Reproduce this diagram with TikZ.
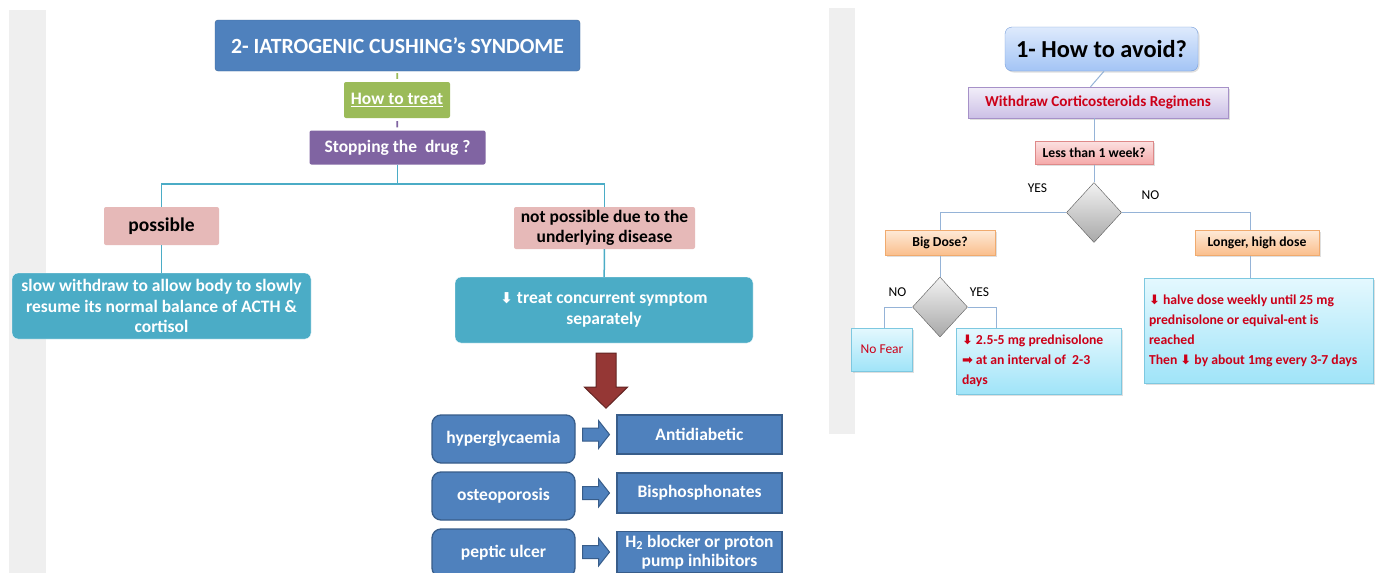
\documentclass[tikz,border=0pt]{standalone}
\usepackage{fontspec}
\setmainfont{Carlito}
\newfontfamily\symfont{DejaVu Sans}
\usepackage{tikz}
\usetikzlibrary{calc, positioning}
\usetikzlibrary{shapes.geometric, shadows}
\definecolor{slideblue}{RGB}{79,129,189}
\definecolor{blueedge}{RGB}{56,93,138}
\definecolor{howgreen}{RGB}{155,187,89}
\definecolor{stoppurple}{RGB}{128,100,162}
\definecolor{pinkcolor}{RGB}{230,185,184}
\definecolor{tealcolor}{RGB}{75,172,198}
\definecolor{darkred}{RGB}{149,55,53}
\definecolor{darkrededge}{RGB}{99,37,35}
\definecolor{stripgray}{RGB}{239,239,239}
\definecolor{avoidtop}{RGB}{222,234,252}
\definecolor{avoidbot}{RGB}{163,196,245}
\definecolor{avoidedge}{RGB}{118,157,218}
\definecolor{lavtop}{RGB}{242,238,249}
\definecolor{lavbot}{RGB}{204,192,230}
\definecolor{lavedge}{RGB}{166,145,200}
\definecolor{rosetop}{RGB}{251,224,224}
\definecolor{rosebot}{RGB}{245,168,168}
\definecolor{roseedge}{RGB}{222,137,137}
\definecolor{ambertop}{RGB}{254,233,214}
\definecolor{amberbot}{RGB}{250,190,140}
\definecolor{amberedge}{RGB}{240,170,110}
\definecolor{cyantop}{RGB}{228,248,254}
\definecolor{cyanbot}{RGB}{160,228,248}
\definecolor{cyanedge}{RGB}{125,200,224}
\definecolor{diamtop}{RGB}{242,242,242}
\definecolor{diambot}{RGB}{168,168,168}
\definecolor{diamedge}{RGB}{90,90,90}
\definecolor{linkblue}{RGB}{149,179,215}
\definecolor{alertred}{RGB}{204,0,24}
% left slide
\tikzstyle{headbox} = [rectangle, rounded corners=3pt, minimum width=365pt, minimum height=51pt, text centered, draw=slideblue!80!black, fill=slideblue, text=white, font=\fontsize{21.7}{24}\selectfont\bfseries]
\tikzstyle{greenbox} = [rectangle, rounded corners=2pt, minimum width=106pt, minimum height=36pt, text centered, fill=howgreen, text=white, font=\fontsize{17.5}{20.5}\selectfont\bfseries]
\tikzstyle{purplebox} = [rectangle, rounded corners=2pt, minimum width=176pt, minimum height=34pt, text centered, fill=stoppurple, text=white, font=\fontsize{17.5}{20.5}\selectfont\bfseries]
\tikzstyle{pinkcase} = [rectangle, rounded corners=2pt, inner sep=0pt, text centered, align=center, fill=pinkcolor, text=black, font=\fontsize{17.5}{20.5}\selectfont\bfseries]
\tikzstyle{tealstep} = [rectangle, rounded corners=6pt, inner sep=0pt, minimum height=66pt, text centered, align=center, fill=tealcolor, draw=white, text=white, font=\fontsize{17.5}{20.5}\selectfont\bfseries]
\tikzstyle{symptom} = [rectangle, rounded corners=9pt, minimum width=143pt, minimum height=48pt, text centered, draw=blueedge, line width=1.3pt, fill=slideblue, text=white, font=\fontsize{17.5}{20.5}\selectfont\bfseries]
\tikzstyle{remedy} = [rectangle, inner sep=0pt, minimum width=165pt, minimum height=40pt, text centered, align=center, draw=blueedge, line width=1.3pt, fill=slideblue, text=white, font=\fontsize{17.5}{19}\selectfont\bfseries]
\tikzstyle{tline} = [draw=tealcolor, line width=1.5pt]
\tikzstyle{howline} = [draw=howgreen, line width=1.8pt, shorten <=2pt, shorten >=3pt]
\tikzstyle{stopline} = [draw=stoppurple, line width=1.8pt, shorten <=3pt, shorten >=3pt]
\tikzstyle{blockarr} = [draw=blueedge, line width=1pt, fill=slideblue, line join=miter]
\tikzstyle{bigarrow} = [draw=darkrededge, line width=1pt, fill=darkred, line join=miter]
% right slide
\tikzstyle{avoidbox} = [rectangle, rounded corners=7pt, minimum width=193pt, minimum height=44pt, text centered, draw=avoidedge, top color=avoidtop, bottom color=avoidbot, drop shadow={shadow xshift=1.5pt, shadow yshift=-1.5pt, opacity=0.25}, font=\fontsize{24.4}{26}\selectfont\bfseries]
\tikzstyle{redbox} = [rectangle, minimum width=260pt, minimum height=31pt, text centered, draw=lavedge, top color=lavtop, bottom color=lavbot, text=alertred, drop shadow={shadow xshift=1.5pt, shadow yshift=-1.5pt, opacity=0.25}, font=\fontsize{15.2}{17}\selectfont\bfseries]
\tikzstyle{questbox} = [rectangle, minimum width=118pt, minimum height=23pt, inner sep=0pt, text centered, draw=roseedge, top color=rosetop, bottom color=rosebot, drop shadow={shadow xshift=1.5pt, shadow yshift=-1.5pt, opacity=0.25}, font=\fontsize{13.7}{16}\selectfont\bfseries]
\tikzstyle{dosebox} = [rectangle, minimum height=25pt, inner sep=0pt, text centered, draw=amberedge, top color=ambertop, bottom color=amberbot, drop shadow={shadow xshift=1.5pt, shadow yshift=-1.5pt, opacity=0.25}, font=\fontsize{13.7}{16}\selectfont\bfseries]
\tikzstyle{advicebox} = [rectangle, inner xsep=6pt, inner ysep=0pt, draw=cyanedge, top color=cyantop, bottom color=cyanbot, text=alertred, drop shadow={shadow xshift=1.5pt, shadow yshift=-1.5pt, opacity=0.25}, font=\fontsize{13.7}{20}\selectfont\bfseries]
\tikzstyle{choice} = [diamond, minimum width=55pt, minimum height=60pt, inner sep=0pt, draw=diamedge, top color=diamtop, bottom color=diambot]
\tikzstyle{answer} = [inner sep=0pt, font=\fontsize{13.5}{16}\selectfont]
\tikzstyle{linkline} = [draw=linkblue, line width=1pt]
\newcommand{\downsym}{{\symfont\fontsize{13}{13}\selectfont ⬇}}
\newcommand{\rightsym}{{\symfont\fontsize{13}{13}\selectfont ➡}}
\newcommand{\sidearrow}[2]{%
  \coordinate (#1#2) at ($(#1.east)!0.5!(#2.west)$);
  \draw[blockarr] (#1#2 |- #2.west) ++(-13.5,-6.5) -- ++(16,0) -- ++(0,-7.5) -- ++(11,14) -- ++(-11,14) -- ++(0,-7.5) -- ++(-16,0) -- cycle;}

\begin{document}
\begin{tikzpicture}[x=1pt, y=-1pt]
\useasboundingbox (0,0) rectangle (1385,573);
\fill[white] (0,0) rectangle (1385,573);
\fill[stripgray] (9,10) rectangle (46,573);
\fill[stripgray] (829,8) rectangle (855,434);

% 2- iatrogenic
\node(title)[headbox] at (397.5,45.5) {2- IATROGENIC CUSHING’s SYNDOME};
\node(howto)[greenbox] at (397,100) {\underline{How to treat}};
\node(stop)[purplebox] at (397.5,147.5) {Stopping the~ drug ?};
\node(possible)[pinkcase, minimum width=115pt, minimum height=38pt, font=\fontsize{19.5}{22}\selectfont\bfseries] at (161.5,226) {possible};
\node(notposs)[pinkcase, minimum width=181pt, minimum height=42pt] at (604.5,228) {not possible due to the\\underlying disease};
\node(slow)[tealstep, minimum width=299pt] at (161.5,306) {slow withdraw to allow body to slowly\\resume its normal balance of ACTH \&\\cortisol};
\node(treat)[tealstep, minimum width=298pt] at (604,310) {{\symfont\fontsize{15}{15}\selectfont ⬇} treat concurrent symptom\\separately};
\node(hyper)[symptom] at (503.5,439) {hyperglycaemia};
\node(osteo)[symptom] at (503.5,496) {osteoporosis};
\node(peptic)[symptom] at (503.5,553) {peptic ulcer};
\node(antidiab)[remedy, minimum height=39pt] at (699.5,434.5) {Antidiabetic};
\node(bisph)[remedy] at (699.5,493) {Bisphosphonates};
\node(htwo)[remedy, minimum height=41pt] at (699.5,552) {H\textsubscript{2} blocker or proton\\pump inhibitors};
\coordinate(fork) at (397.5,184);

\draw[howline] (title) -- (howto);
\draw[stopline] (howto) -- (stop);
\draw[tline] (stop) -- (fork);
\draw[tline] (possible) |- (fork) -| (notposs);
\draw[tline] (possible) -- (slow);
\draw[tline] (notposs) -- (treat);
\draw[bigarrow] ([xshift=-8pt,yshift=-10pt]treat.south) -- ++(20,0) -- ++(0,34) -- ++(11.5,0) -- ++(-21.5,21) -- ++(-21.5,-21) -- ++(11.5,0) -- cycle;
\sidearrow{hyper}{antidiab}
\sidearrow{osteo}{bisph}
\sidearrow{peptic}{htwo}

% 1- how to avoid
\node(avoid)[avoidbox] at (1101.5,49) {1- How to avoid?};
\node(withdraw)[redbox] at (1098,102.5) {Withdraw Corticosteroids Regimens};
\node(less)[questbox] at (1094,153) {Less than 1 week?};
\node(d1)[choice] at (1094,212.5) {};
\node(yesA)[answer] at (1037.5,188) {YES};
\node(noA)[answer] at (1150.5,195) {NO};
\node(bigdose)[dosebox, minimum width=110pt] at (940,243) {Big Dose?};
\node(longer)[dosebox, minimum width=124pt] at (1257,243) {Longer, high dose};
\node(d2)[choice] at (940,307) {};
\node(noB)[answer] at (897.5,292) {NO};
\node(yesB)[answer] at (979.5,292) {YES};
\node(nofear)[advicebox, minimum width=61pt, minimum height=43pt, inner xsep=0pt, font=\fontsize{13.5}{16}\selectfont] at (882,349.5) {No Fear};
\node(lowdose)[advicebox, text width=153pt, minimum height=66pt, align=flush left] at (1038.5,361) {\downsym{} 2.5-5 mg prednisolone\\\rightsym{} at an interval of~ 2-3\\days};
\node(bigbox)[advicebox, text width=219pt, inner xsep=5pt, minimum height=105pt, align=flush left] at (1258.5,330.5) {\downsym{} halve dose weekly until 25 mg\\prednisolone or equival-ent is\\reached\\Then \downsym{} by about 1mg every 3-7 days};
\coordinate(longdrop) at ([xshift=-7pt]longer.south);

\draw[linkline] ([xshift=2.5pt]avoid.south) -- ([xshift=-7.5pt]withdraw.north);
\draw[linkline] (withdraw.south -| less.north) -- (less.north);
\draw[linkline] (less) -- (d1);
\draw[linkline] (d1.west) -| (bigdose.north);
\draw[linkline] (d1.east) -| ([xshift=-7pt]longer.north);
\draw[linkline] (bigdose) -- (d2);
\draw[linkline] (d2.west) -| ([xshift=2pt]nofear.north);
\draw[linkline] (d2.east) -| ([xshift=-42.5pt]lowdose.north);
\draw[linkline] (longdrop) -- (longdrop |- bigbox.north);

\end{tikzpicture}
\end{document}
